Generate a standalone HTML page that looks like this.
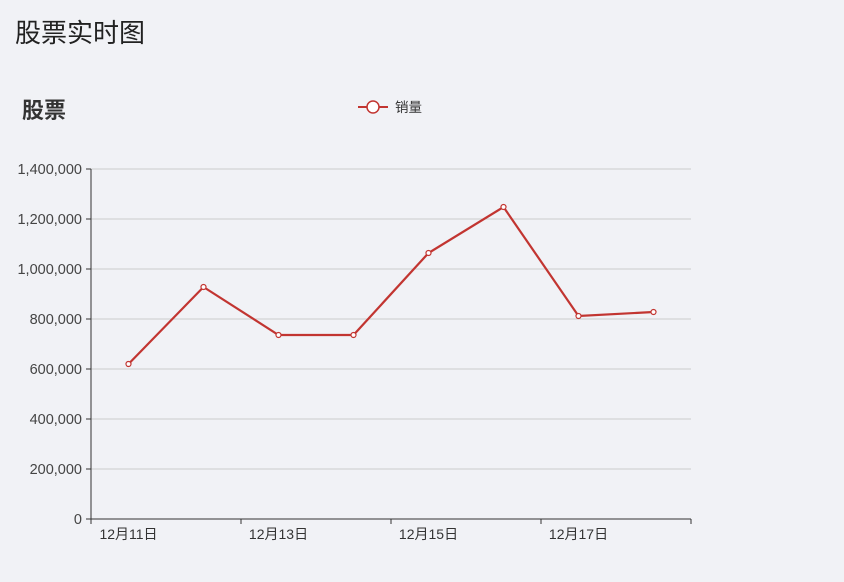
<!DOCTYPE html>
<html><head><meta charset="utf-8"><style>
body{margin:0;width:844px;height:582px;background:#f1f2f6;overflow:hidden;font-family:"Liberation Sans","Noto Sans CJK SC",sans-serif;}
#title{position:absolute;left:15px;top:13px;font-size:26px;color:#222;}
svg{position:absolute;left:0;top:0;}
</style></head><body>
<div id="title">股票实时图</div>
<svg id="chart" width="844" height="582">
<text x="22" y="118" font-size="22" font-weight="bold" fill="#333" font-family="Liberation Sans,Noto Sans CJK SC,sans-serif">股票</text>
<g>
<line x1="358" y1="107" x2="388" y2="107" stroke="#c23531" stroke-width="2"/>
<circle cx="373" cy="107" r="6" fill="#fff" stroke="#c23531" stroke-width="1.5"/>
<text x="395" y="112" font-size="13.5" fill="#333" font-family="Liberation Sans,Noto Sans CJK SC,sans-serif">销量</text>
</g>
<g id="grid"></g><g id="axes"></g><g id="series"></g>
</svg>
<script>
const categories=["12月11日","12月12日","12月13日","12月14日","12月15日","12月16日","12月17日","12月18日"];
const sales=[620000,928000,736000,736000,1064000,1248000,812000,828000];
const yTicks=[0,200000,400000,600000,800000,1000000,1200000,1400000];
const yTickLabels=["0","200,000","400,000","600,000","800,000","1,000,000","1,200,000","1,400,000"];
const NS="http://www.w3.org/2000/svg";
const x0=91,x1=691,y0=519,y1=169,yMax=1400000;
const band=(x1-x0)/categories.length;
function xPos(i){return x0+band*(i+0.5);}
function yPos(v){return y0-(v/yMax)*(y0-y1);}
function mk(t,a,p){const e=document.createElementNS(NS,t);for(const k in a)e.setAttribute(k,a[k]);p.appendChild(e);return e;}
const grid=document.getElementById('grid'),axes=document.getElementById('axes'),series=document.getElementById('series');
yTicks.forEach((v,i)=>{
 const y=yPos(v);
 if(v>0){const l=mk('line',{x1:x0,x2:x1,y1:y,y2:y,stroke:'#ccc','stroke-width':1},grid);
 
 }
 mk('line',{x1:x0-5,x2:x0,y1:y,y2:y,stroke:'#333'},axes);
 const t=mk('text',{x:x0-9,y:y+5,'text-anchor':'end','font-size':14.5,fill:'#444'},axes);
 t.textContent=yTickLabels[i];
 
 
});
const ya=mk('line',{x1:x0,x2:x0,y1:y1,y2:y0,stroke:'#333'},axes);


const xa=mk('line',{x1:x0,x2:x1,y1:y0,y2:y0,stroke:'#333'},axes);


categories.forEach((c,i)=>{
 if(i%2===0){
  const tx=x0+band*i;
  mk('line',{x1:tx,x2:tx,y1:y0,y2:y0+5,stroke:'#333'},axes);
  const t=mk('text',{x:xPos(i),y:y0+20,'text-anchor':'middle','font-size':14,fill:'#333'},axes);
  t.textContent=c;
  
  
 }
});
mk('line',{x1:x1,x2:x1,y1:y0,y2:y0+5,stroke:'#333'},axes);
const pts=sales.map((v,i)=>xPos(i)+','+yPos(v)).join(' ');
const pl=mk('polyline',{points:pts,fill:'none',stroke:'#c23531','stroke-width':2.2},series);


sales.forEach((v,i)=>{
 const c=mk('circle',{cx:xPos(i),cy:yPos(v),r:2.5,fill:'#fff',stroke:'#c23531','stroke-width':1.2},series);
 
 
});
</script>
</body></html>
